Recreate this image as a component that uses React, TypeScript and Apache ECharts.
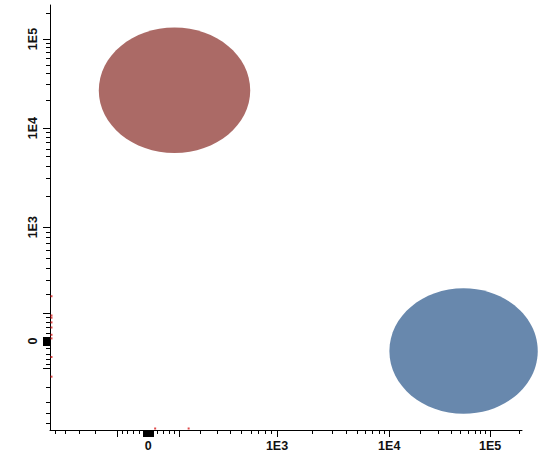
import React, { useEffect, useRef } from "react";
import * as echarts from "echarts";

// Biexponential-style display transform (arcsinh with a mild power compression)
const COFACTOR = 300;
const COMPRESSION = 0.8;
function toDisplay(v: number): number {
  return Math.sign(v) * Math.pow(Math.asinh(Math.abs(v) / COFACTOR), COMPRESSION);
}

// Axis extents in raw fluorescence units
const X_RANGE = [-550, 215000];
const Y_RANGE = [-580, 253000];

// Tick values
const DECADE_LABELS = [0, 1000, 10000, 100000];
const MAJOR_TICKS = [-100, 100, 1000, 10000, 100000];
const ZERO_TICKS = [-9, -8, -7, -6, -5, -4, -3, -2, -1, 0, 1, 2, 3, 4, 5, 6, 7, 8, 9];
const MINOR_TICKS = [
  -500, -400, -300, -200, -80, -60, -40, -20,
  20, 40, 60, 80,
  200, 300, 400, 500, 600, 700, 800, 900,
  2000, 3000, 4000, 5000, 6000, 7000, 8000, 9000,
  20000, 30000, 40000, 50000, 60000, 70000, 80000, 90000,
  200000,
];

// Populations: median position (raw units) and spread (display units)
const POP_NAMES = ["Population A", "Population B"];
const POP_X = [80, 53500];
const POP_Y = [26000, -28];
const POP_SPREAD_X = [0.99, 0.97];
const POP_SPREAD_Y = [0.93, 0.93];
const POP_COLORS = ["#ab6a66", "#6888ad"];

// Off-scale events piled on the left and bottom edges
const EDGE_LEFT_Y = [190, 90, 80, 60, 40, 15, 5, -50, -140];
const EDGE_BOTTOM_X = [15, 140];

function labelFor(v: number): string {
  return v === 0 ? "0" : "1E" + Math.round(Math.log10(v));
}

function buildAxes(range: number[], position: "bottom" | "left", rotate: number, margin: number) {
  const min = toDisplay(range[0]);
  const max = toDisplay(range[1]);
  const inRange = (vals: number[]) =>
    vals.filter((v) => v >= range[0] && v <= range[1]).map(toDisplay);
  const labelMap = DECADE_LABELS.map((v) => [toDisplay(v), labelFor(v)] as [number, string]);
  const base = {
    type: "value" as const,
    min,
    max,
    position,
    offset: 0,
    splitLine: { show: false },
  };
  return [
    {
      ...base,
      axisLine: { show: true, onZero: false, lineStyle: { color: "#000", width: 1 } },
      axisTick: {
        show: true,
        length: 7,
        customValues: inRange(MAJOR_TICKS.concat(ZERO_TICKS)),
        lineStyle: { color: "#000", width: 1 },
      },
      axisLabel: {
        show: true,
        customValues: inRange(DECADE_LABELS),
        rotate,
        margin,
        color: "#111",
        fontFamily: "Liberation Sans, Arial, sans-serif",
        fontWeight: "bold",
        fontSize: 12.5,
        formatter: (val: number) => {
          let best = labelMap[0];
          for (const m of labelMap) if (Math.abs(m[0] - val) < Math.abs(best[0] - val)) best = m;
          return best[1];
        },
      },
    },
    {
      ...base,
      axisLine: { show: false, onZero: false },
      axisTick: {
        show: true,
        length: 4,
        customValues: inRange(MINOR_TICKS),
        lineStyle: { color: "#000", width: 1 },
      },
      axisLabel: { show: false },
    },
  ];
}

export default function App() {
  const ref = useRef<HTMLDivElement>(null);

  useEffect(() => {
    if (!ref.current) return;
    const chart = echarts.init(ref.current, null, { renderer: "svg" });

    const popData = POP_NAMES.map((name, i) => ({
      name,
      value: [toDisplay(POP_X[i]), toDisplay(POP_Y[i]), POP_SPREAD_X[i], POP_SPREAD_Y[i]],
      itemStyle: { color: POP_COLORS[i] },
    }));

    const leftEdge = EDGE_LEFT_Y.map((y) => [toDisplay(X_RANGE[0]), toDisplay(y)]);
    const bottomEdge = EDGE_BOTTOM_X.map((x) => [toDisplay(x), toDisplay(Y_RANGE[0])]);

    const edgeSeries = (data: number[][], offset: number[]) => ({
      type: "scatter",
      name: "edge events",
      clip: false,
      xAxisIndex: 0,
      yAxisIndex: 0,
      symbol: "rect",
      symbolSize: 2,
      symbolOffset: offset,
      itemStyle: { color: "#d81e1e" },
      z: 5,
      data,
    });

    chart.setOption({
      animation: false,
      backgroundColor: "#fff",
      grid: { left: 50, top: 5, width: 472, height: 425 },
      xAxis: buildAxes(X_RANGE, "bottom", 0, 9),
      yAxis: buildAxes(Y_RANGE, "left", 90, 11),
      series: [
        {
          type: "custom",
          name: "populations",
          clip: false,
          xAxisIndex: 0,
          yAxisIndex: 0,
          data: popData,
          renderItem: (params: any, api: any) => {
            const c = api.coord([api.value(0), api.value(1)]);
            const s = api.size([api.value(2), api.value(3)]);
            return {
              type: "ellipse",
              shape: { cx: c[0], cy: c[1], rx: s[0], ry: s[1] },
              style: { fill: POP_COLORS[params.dataIndex] },
            };
          },
        },
        edgeSeries(leftEdge, [1.5, 0]),
        edgeSeries(bottomEdge, [0, -1.5]),
      ],
    });

    return () => chart.dispose();
  }, []);

  return (
    <div
      ref={ref}
      style={{ position: "fixed", left: 0, top: 0, width: 538, height: 455 }}
    />
  );
}
